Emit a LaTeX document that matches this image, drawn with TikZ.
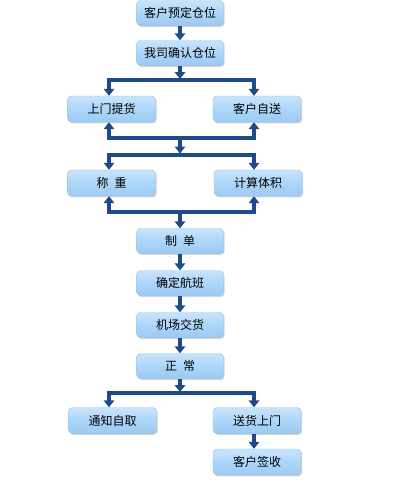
\documentclass[tikz,border=0pt]{standalone}
\usepackage{fontspec}
\newfontfamily\cjk{Noto Sans CJK SC}
\usetikzlibrary{arrows.meta,shadows}
\definecolor{arr}{HTML}{1F4A8A}
\definecolor{boxtop}{HTML}{C8E4FD}
\definecolor{boxmid}{HTML}{ADD6F9}
\definecolor{boxbot}{HTML}{9CCAF3}
\definecolor{boxedge}{HTML}{92BFE8}
\begin{document}
\begin{tikzpicture}[x=1pt,y=-1pt,
  box/.style={rounded corners=4pt, top color=boxtop, bottom color=boxbot, middle color=boxmid,
    draw=boxedge, line width=0.4pt,
    minimum width=87pt, minimum height=25pt, inner sep=0pt,
    font=\cjk\fontsize{12}{14}\selectfont, text=black,
    drop shadow={shadow xshift=1.2pt, shadow yshift=-1.4pt, fill=black!35, opacity=0.5}},
  sbox/.style={box, minimum width=88pt, minimum height=26pt},
  ar/.style={draw=arr, line width=3.4pt, -{Triangle[width=10.5pt,length=7pt]}},
]
\useasboundingbox (0,0) rectangle (400,485);
% nodes
\node[box] (b1) at (180,13) {客户预定仓位};
\node[box] (b2) at (180,53) {我司确认仓位};
\node[sbox] (L1) at (111.5,109) {上门提货};
\node[sbox] (R1) at (257,109) {客户自送};
\node[sbox] (L2) at (111.5,183) {称\enspace 重};
\node[sbox] (R2) at (258,183) {计算体积};
\node[box] (b3) at (180,241) {制\enspace 单};
\node[box] (b4) at (180,283) {确定航班};
\node[box] (b5) at (180,325) {机场交货};
\node[box] (b6) at (180,366) {正\enspace 常};
\node[sbox] (L3) at (112.5,420.5) {通知自取};
\node[sbox] (R3) at (257,420.5) {送货上门};
\node[sbox] (R4) at (257,462) {客户签收};
% helper coordinates
\coordinate (xl) at (109,0);
\coordinate (xr) at (254,0);
\coordinate (m1) at (180,80);
\coordinate (m2) at (180,138);
\coordinate (m3) at (180,155);
\coordinate (m4) at (180,212);
\coordinate (m5) at (180,393);
% connectors
\draw[ar] (b1) -- (b2);
\draw[ar, shorten >=1pt] (b2) -- (m1);
\draw[ar] (m1) -| (xl |- L1.north);
\draw[ar] (m1) -| (xr |- R1.north);
\draw[ar] (m2) -| (xl |- L1.south);
\draw[ar] (m2) -| (xr |- R1.south);
\draw[ar, shorten >=1.5pt] (m2) -- (m3);
\draw[ar] (m3) -| (xl |- L2.north);
\draw[ar] (m3) -| (xr |- R2.north);
\draw[ar] (m4) -| (xl |- L2.south);
\draw[ar] (m4) -| (xr |- R2.south);
\draw[ar] (m4) -- (b3);
\draw[ar] (b3) -- (b4);
\draw[ar] (b4) -- (b5);
\draw[ar] (b5) -- (b6);
\draw[ar, shorten >=1pt] (b6) -- (m5);
\draw[ar] (m5) -| (xl |- L3.north);
\draw[ar] (m5) -| (xr |- R3.north);
\draw[ar] (xr |- R3.south) -- (xr |- R4.north);
\end{tikzpicture}
\end{document}
